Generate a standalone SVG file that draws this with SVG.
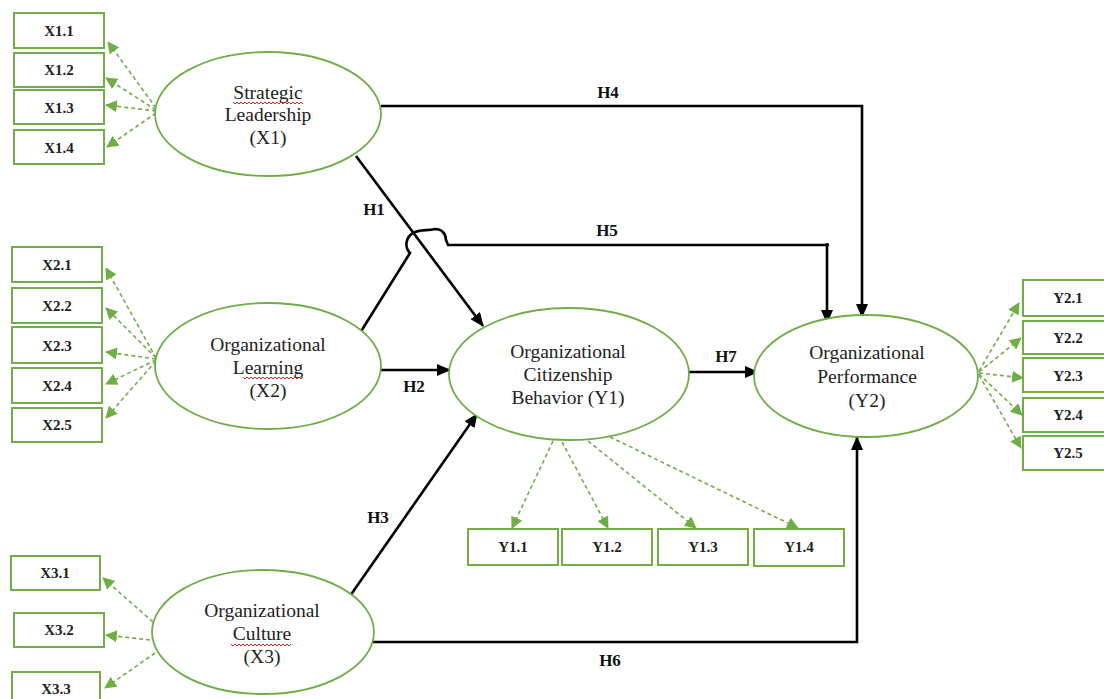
<svg xmlns="http://www.w3.org/2000/svg" width="1104" height="699" viewBox="0 0 1104 699">
<style>
.ell{fill:#fff;stroke:#70ad47;stroke-width:1.8}
.box{fill:#fff;stroke:#70ad47;stroke-width:2}
.bl{font-family:"Liberation Serif","Times New Roman",serif;font-weight:bold;font-size:15px;fill:#222;text-anchor:middle}
.el{font-family:"Liberation Serif","Times New Roman",serif;font-size:19.5px;fill:#222;text-anchor:middle}
.hl{font-family:"Liberation Serif","Times New Roman",serif;font-weight:bold;font-size:17px;fill:#111;text-anchor:middle}
.dash{fill:none;stroke:#70ad47;stroke-width:1.6;stroke-dasharray:4 3;marker-end:url(#ga)}
.blk{fill:none;stroke:#000;stroke-width:2.6;marker-end:url(#ba)}
.wavy{fill:none;stroke:#e02020;stroke-width:1}
</style>
<defs>
<marker id="ba" markerUnits="userSpaceOnUse" markerWidth="14" markerHeight="12" refX="13" refY="6" orient="auto">
<path d="M0,0 L14,6 L0,12 Z" fill="#000"/>
</marker>
<marker id="ga" markerUnits="userSpaceOnUse" markerWidth="12" markerHeight="12" refX="11" refY="6" orient="auto">
<path d="M0,0 L12,6 L0,12 Z" fill="#70ad47"/>
</marker>
</defs>
<rect width="1104" height="699" fill="#fff"/>

<g id="connectors">
<!-- measurement (dashed) -->
<path class="dash" d="M156,108 L108,42"/>
<path class="dash" d="M156,110 L106,78"/>
<path class="dash" d="M156,111 L106,105"/>
<path class="dash" d="M156,113 L107,147"/>

<path class="dash" d="M156,358 L106,268"/>
<path class="dash" d="M156,358 L106,308"/>
<path class="dash" d="M156,359 L106,352"/>
<path class="dash" d="M156,360 L106,384"/>
<path class="dash" d="M156,361 L106,418"/>

<path class="dash" d="M153,622 L103,578"/>
<path class="dash" d="M150,640 L106,635"/>
<path class="dash" d="M155,653 L105,688"/>

<path class="dash" d="M553,441 L512,528"/>
<path class="dash" d="M562,442 L608,528"/>
<path class="dash" d="M588,441 L696,528"/>
<path class="dash" d="M610,437 L798,528"/>

<path class="dash" d="M979,371 L1019,303"/>
<path class="dash" d="M979,372 L1021,338"/>
<path class="dash" d="M979,373 L1023,378"/>
<path class="dash" d="M979,374 L1022,415"/>
<path class="dash" d="M979,375 L1021,448"/>

<!-- structural -->
<path class="blk" d="M381,106 L862,106 L862,317"/>
<path class="blk" d="M356,156 L483,326"/>
<path class="blk" d="M360,333 L410,253 C404,247 406,237 413,233 C419,229 428,231 435,229 C442,229 446,234 446,240 L448,245 L827,245 L827,323"/>
<circle cx="827" cy="245" r="2" fill="#000"/>
<path class="blk" d="M380,370 L450,370"/>
<path class="blk" d="M689,372 L758,372"/>
<path class="blk" d="M350,596 L477,414"/>
<path class="blk" d="M373,642 L857,642 L857,437"/>

<text class="hl" x="608" y="98">H4</text>
<text class="hl" x="374" y="215">H1</text>
<text class="hl" x="607" y="236">H5</text>
<text class="hl" x="414" y="392">H2</text>
<text class="hl" x="726" y="362">H7</text>
<text class="hl" x="378" y="523">H3</text>
<text class="hl" x="610" y="666">H6</text>
</g>

<g id="X1">
<ellipse class="ell" cx="268" cy="114" rx="113" ry="62"/>
<text class="el" x="268" y="99">Strategic</text>
<text class="el" x="268" y="121">Leadership</text>
<text class="el" x="268" y="144">(X1)</text>
<path class="wavy" d="M233,102 l2,2 l2,-2 l2,2 l2,-2 l2,2 l2,-2 l2,2 l2,-2 l2,2 l2,-2 l2,2 l2,-2 l2,2 l2,-2 l2,2 l2,-2 l2,2 l2,-2 l2,2 l2,-2 l2,2 l2,-2 l2,2 l2,-2 l2,2 l2,-2 l2,2 l2,-2 l2,2 l2,-2 l2,2 l2,-2 l2,2 l2,-2 l2,2"/>
</g>
<g id="X2">
<ellipse class="ell" cx="268" cy="366" rx="113" ry="63"/>
<text class="el" x="268" y="351">Organizational</text>
<text class="el" x="268" y="374">Learning</text>
<text class="el" x="268" y="397">(X2)</text>
<path class="wavy" d="M243,377 l2,2 l2,-2 l2,2 l2,-2 l2,2 l2,-2 l2,2 l2,-2 l2,2 l2,-2 l2,2 l2,-2 l2,2 l2,-2 l2,2 l2,-2 l2,2 l2,-2 l2,2 l2,-2 l2,2 l2,-2 l2,2 l2,-2 l2,2 l2,-2 l2,2 l2,-2 l2,2 l2,-2"/>
</g>
<g id="X3">
<ellipse class="ell" cx="263" cy="632" rx="111" ry="62"/>
<text class="el" x="262" y="617">Organizational</text>
<text class="el" x="262" y="640">Culture</text>
<text class="el" x="262" y="663">(X3)</text>
<path class="wavy" d="M231,644 l2,2 l2,-2 l2,2 l2,-2 l2,2 l2,-2 l2,2 l2,-2 l2,2 l2,-2 l2,2 l2,-2 l2,2 l2,-2 l2,2 l2,-2 l2,2 l2,-2 l2,2 l2,-2 l2,2 l2,-2 l2,2 l2,-2 l2,2 l2,-2 l2,2 l2,-2 l2,2 l2,-2"/>
</g>
<g id="Y1">
<ellipse class="ell" cx="569" cy="374" rx="120" ry="66"/>
<text class="el" x="568" y="358">Organizational</text>
<text class="el" x="568" y="381">Citizenship</text>
<text class="el" x="568" y="404">Behavior (Y1)</text>
</g>
<g id="Y2">
<ellipse class="ell" cx="866" cy="376" rx="112" ry="61"/>
<text class="el" x="867" y="359">Organizational</text>
<text class="el" x="867" y="383">Performance</text>
<text class="el" x="867" y="407">(Y2)</text>
</g>

<g id="X1.1"><rect class="box" x="14" y="13" width="90" height="35"/><text class="bl" x="59" y="36">X1.1</text></g>
<g id="X1.2"><rect class="box" x="14" y="53" width="90" height="34"/><text class="bl" x="59" y="75">X1.2</text></g>
<g id="X1.3"><rect class="box" x="14" y="90" width="90" height="34"/><text class="bl" x="59" y="113">X1.3</text></g>
<g id="X1.4"><rect class="box" x="14" y="130" width="90" height="34"/><text class="bl" x="59" y="153">X1.4</text></g>

<g id="X2.1"><rect class="box" x="12" y="247" width="90" height="35"/><text class="bl" x="57" y="270">X2.1</text></g>
<g id="X2.2"><rect class="box" x="12" y="288" width="90" height="35"/><text class="bl" x="57" y="311">X2.2</text></g>
<g id="X2.3"><rect class="box" x="12" y="327" width="90" height="36"/><text class="bl" x="57" y="351">X2.3</text></g>
<g id="X2.4"><rect class="box" x="12" y="368" width="90" height="35"/><text class="bl" x="57" y="391">X2.4</text></g>
<g id="X2.5"><rect class="box" x="12" y="408" width="90" height="34"/><text class="bl" x="57" y="430">X2.5</text></g>

<g id="X3.1"><rect class="box" x="11" y="556" width="89" height="34"/><text class="bl" x="55" y="578">X3.1</text></g>
<g id="X3.2"><rect class="box" x="14" y="613" width="90" height="34"/><text class="bl" x="59" y="635">X3.2</text></g>
<g id="X3.3"><rect class="box" x="12" y="672" width="88" height="34"/><text class="bl" x="56" y="694">X3.3</text></g>

<g id="Y1.1"><rect class="box" x="468" y="529" width="90" height="36"/><text class="bl" x="513" y="552">Y1.1</text></g>
<g id="Y1.2"><rect class="box" x="562" y="529" width="90" height="36"/><text class="bl" x="607" y="552">Y1.2</text></g>
<g id="Y1.3"><rect class="box" x="658" y="529" width="90" height="36"/><text class="bl" x="703" y="552">Y1.3</text></g>
<g id="Y1.4"><rect class="box" x="754" y="529" width="90" height="37"/><text class="bl" x="799" y="552">Y1.4</text></g>

<g id="Y2.1"><rect class="box" x="1023" y="280" width="90" height="36"/><text class="bl" x="1068" y="303">Y2.1</text></g>
<g id="Y2.2"><rect class="box" x="1023" y="321" width="90" height="33"/><text class="bl" x="1068" y="343">Y2.2</text></g>
<g id="Y2.3"><rect class="box" x="1023" y="358" width="90" height="34"/><text class="bl" x="1068" y="381">Y2.3</text></g>
<g id="Y2.4"><rect class="box" x="1023" y="398" width="90" height="34"/><text class="bl" x="1068" y="420">Y2.4</text></g>
<g id="Y2.5"><rect class="box" x="1023" y="436" width="90" height="34"/><text class="bl" x="1068" y="458">Y2.5</text></g>
</svg>
